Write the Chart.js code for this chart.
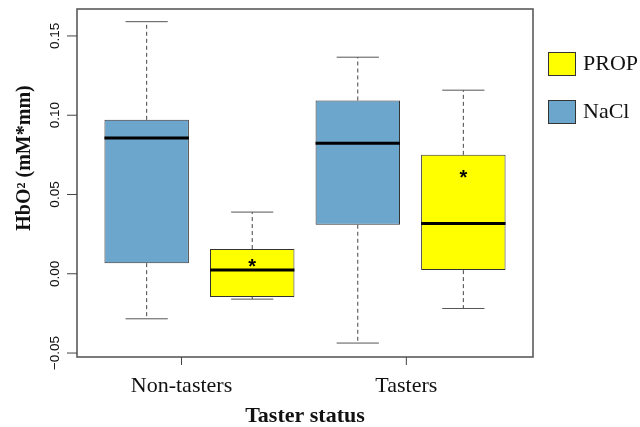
<!DOCTYPE html>
<html>
<head>
<meta charset="utf-8">
<script src="https://cdn.jsdelivr.net/npm/chart.js@4.4.1/dist/chart.umd.min.js"></script>
<style>
  html, body { margin: 0; padding: 0; background: #ffffff; }
  #wrap { width: 640px; height: 427px; }
</style>
</head>
<body>
<div id="wrap"><canvas id="c" width="640" height="427"></canvas></div>
<script>
// ---- data ----
const categories = ['Non-tasters', 'Tasters'];
const seriesNames = ['NaCl', 'PROP'];

const naclLow    = [-0.0284, -0.0437];
const naclQ1     = [0.0067, 0.0309];
const naclMedian = [0.0856, 0.0824];
const naclQ3     = [0.0971, 0.1093];
const naclHigh   = [0.1590, 0.1366];

const propLow    = [-0.0160, -0.0219];
const propQ1     = [-0.0147, 0.0023];
const propMedian = [0.0023, 0.0317];
const propQ3     = [0.0156, 0.0750];
const propHigh   = [0.0389, 0.1158];
const propStar   = [0.0076, 0.0639];

const yTickValues = [-0.05, 0, 0.05, 0.10, 0.15];
const yTickLabels = ['\u22120.05', '0.00', '0.05', '0.10', '0.15'];

const xTitle = 'Taster status';
const yTitle = 'HbO\u00B2 (mM*mm)';

// ---- layout / style (not data) ----
const COLORS = { NaCl: '#6CA6CD', PROP: '#FFFF00' };
const X_MIN = 0.34, X_MAX = 4.66;
const Y_MIN = -0.0525, Y_MAX = 0.167;
const X_TICK_POS = [1.33, 3.46];   // R-style axis tick positions for the two groups
const BOX_WEX = 0.8;

function boxPos(series, i) { return 2 * i + (series === 'NaCl' ? 1 : 2); }

const stats = {
  NaCl: { low: naclLow, q1: naclQ1, med: naclMedian, q3: naclQ3, high: naclHigh },
  PROP: { low: propLow, q1: propQ1, med: propMedian, q3: propQ3, high: propHigh, star: propStar }
};

const datasets = seriesNames.map(name => ({
  label: name,
  data: categories.map((c, i) => ({ x: boxPos(name, i), y: [stats[name].q1[i], stats[name].q3[i]] })),
  backgroundColor: COLORS[name],
  borderColor: '#333333',
  borderWidth: 1,
  borderSkipped: false,
  grouped: false,
  barPercentage: BOX_WEX,
  categoryPercentage: 1.0
}));

const boxPlugin = {
  id: 'rbox',
  afterDatasetsDraw(chart) {
    const ctx = chart.ctx;
    const xs = chart.scales.x, ys = chart.scales.y;
    const unit = xs.getPixelForValue(1) - xs.getPixelForValue(0);
    ctx.save();
    seriesNames.forEach(name => {
      const s = stats[name];
      categories.forEach((c, i) => {
        const xc = xs.getPixelForValue(boxPos(name, i));
        const half = unit * BOX_WEX / 2;
        const capHalf = half / 2;
        const yLow = ys.getPixelForValue(s.low[i]);
        const yQ1 = ys.getPixelForValue(s.q1[i]);
        const yQ3 = ys.getPixelForValue(s.q3[i]);
        const yHigh = ys.getPixelForValue(s.high[i]);
        const yMed = ys.getPixelForValue(s.med[i]);
        // dashed whiskers
        ctx.strokeStyle = '#444444';
        ctx.lineWidth = 1;
        ctx.setLineDash([4, 3]);
        ctx.beginPath();
        ctx.moveTo(xc, yQ3); ctx.lineTo(xc, yHigh);
        ctx.moveTo(xc, yQ1); ctx.lineTo(xc, yLow);
        ctx.stroke();
        // caps
        ctx.setLineDash([]);
        ctx.strokeStyle = '#555555';
        ctx.beginPath();
        ctx.moveTo(xc - capHalf, yHigh); ctx.lineTo(xc + capHalf, yHigh);
        ctx.moveTo(xc - capHalf, yLow); ctx.lineTo(xc + capHalf, yLow);
        ctx.stroke();
        // median
        ctx.strokeStyle = '#000000';
        ctx.lineWidth = 3;
        ctx.beginPath();
        ctx.moveTo(xc - half, yMed); ctx.lineTo(xc + half, yMed);
        ctx.stroke();
        // star markers
        if (s.star) {
          const yS = ys.getPixelForValue(s.star[i]);
          ctx.fillStyle = '#000000';
          ctx.font = 'bold 20px "Liberation Sans", Arial, sans-serif';
          ctx.textAlign = 'center';
          ctx.textBaseline = 'alphabetic';
          ctx.fillText('*', xc, yS + 11.5);
        }
      });
    });
    ctx.restore();
  },
  afterDraw(chart) {
    const ctx = chart.ctx;
    const a = chart.chartArea;
    const xs = chart.scales.x, ys = chart.scales.y;
    ctx.save();
    // frame
    ctx.strokeStyle = '#5a5a5a';
    ctx.lineWidth = 1.6;
    ctx.strokeRect(a.left, a.top, a.right - a.left, a.bottom - a.top);
    // y ticks + labels
    ctx.lineWidth = 1;
    ctx.strokeStyle = '#444444';
    ctx.fillStyle = '#111111';
    ctx.font = '13.5px "Liberation Sans", Arial, sans-serif';
    yTickValues.forEach((v, k) => {
      const y = ys.getPixelForValue(v);
      ctx.beginPath();
      ctx.moveTo(a.left - 10, y); ctx.lineTo(a.left, y);
      ctx.stroke();
      ctx.save();
      ctx.translate(59, y);
      ctx.rotate(-Math.PI / 2);
      ctx.textAlign = 'center';
      ctx.textBaseline = 'alphabetic';
      ctx.fillText(yTickLabels[k], 0, 0);
      ctx.restore();
    });
    // x ticks + labels
    ctx.font = '22px "Liberation Serif", "Times New Roman", serif';
    ctx.textAlign = 'center';
    ctx.textBaseline = 'alphabetic';
    categories.forEach((c, i) => {
      const x = xs.getPixelForValue(X_TICK_POS[i]);
      ctx.beginPath();
      ctx.moveTo(x, a.bottom); ctx.lineTo(x, a.bottom + 8);
      ctx.stroke();
      ctx.fillText(c, x, 392);
    });
    // axis titles
    ctx.font = 'bold 22px "Liberation Serif", "Times New Roman", serif';
    ctx.fillText(xTitle, (a.left + a.right) / 2, 422);
    ctx.save();
    ctx.translate(30, 158);
    ctx.rotate(-Math.PI / 2);
    ctx.font = 'bold 20px "Liberation Serif", "Times New Roman", serif';
    ctx.fillText(yTitle, 0, 0);
    ctx.restore();
    // legend (PROP first, then NaCl)
    const legendOrder = ['PROP', 'NaCl'];
    const legendY = [52, 100];
    ctx.font = '22px "Liberation Serif", "Times New Roman", serif';
    ctx.textAlign = 'left';
    legendOrder.forEach((name, k) => {
      ctx.fillStyle = COLORS[name];
      ctx.fillRect(548, legendY[k], 27, 23);
      ctx.strokeStyle = '#333333';
      ctx.lineWidth = 1;
      ctx.strokeRect(548.5, legendY[k] + 0.5, 27, 23);
      ctx.fillStyle = '#111111';
      ctx.fillText(name, 583, legendY[k] + 18);
    });
    ctx.restore();
  }
};

new Chart(document.getElementById('c'), {
  type: 'bar',
  data: { datasets },
  options: {
    responsive: false,
    animation: false,
    events: [],
    devicePixelRatio: 1,
    layout: { padding: { left: 77, right: 107, top: 9, bottom: 70 } },
    plugins: { legend: { display: false }, tooltip: { enabled: false } },
    scales: {
      x: {
        type: 'linear', min: X_MIN, max: X_MAX, display: false, offset: false,
        afterBuildTicks: s => { s.ticks = X_TICK_POS.map(v => ({ value: v })); }
      },
      y: {
        type: 'linear', min: Y_MIN, max: Y_MAX, display: false,
        afterBuildTicks: s => { s.ticks = yTickValues.map(v => ({ value: v })); }
      }
    }
  },
  plugins: [boxPlugin]
});
</script>
</body>
</html>
